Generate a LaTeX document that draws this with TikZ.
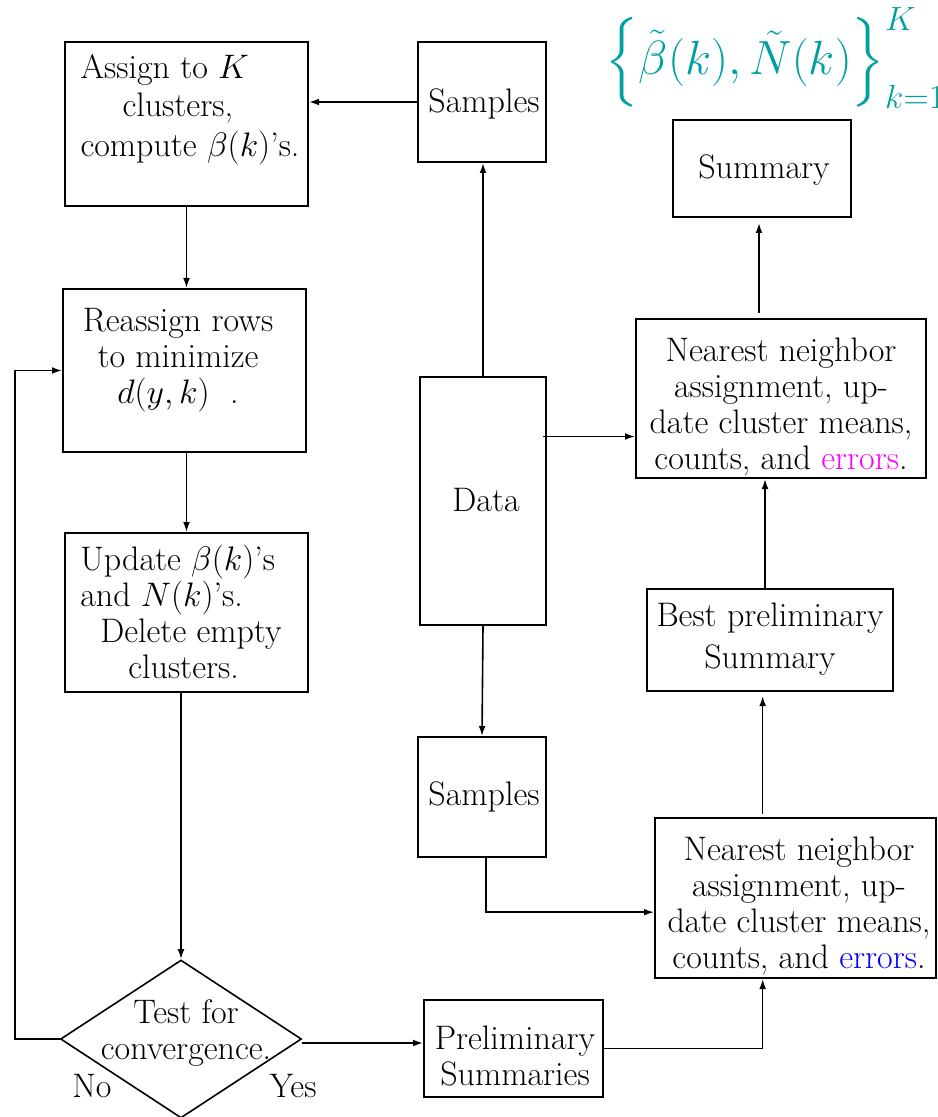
\documentclass[tikz,border=0pt]{standalone}
\usepackage{fix-cm}
\usepackage{amsmath}
\usetikzlibrary{arrows.meta,calc,shapes.geometric}
\definecolor{tealc}{RGB}{0,160,160}
\definecolor{errmag}{RGB}{255,0,255}
\definecolor{errblue}{RGB}{0,0,255}
\begin{document}
\begin{tikzpicture}[x=0.5pt,y=-0.5pt,
  box/.style={draw,line width=1pt,inner sep=0pt},
  txt/.style={font=\fontsize{17}{18}\selectfont,inner sep=0pt},
  arr/.style={line width=0.8pt,-{Latex[length=5pt,width=3.4pt]}},
]
\useasboundingbox (0,0) rectangle (937,1117);

% boxes
\node[box,minimum width=121.5pt,minimum height=82pt] (assign) at (186.5,124) {};
\node[box,minimum width=64pt,minimum height=60pt] (samp1) at (482,102) {};
\node[box,minimum width=89pt,minimum height=48.5pt] (summ) at (762,168.5) {};
\node[box,minimum width=121.5pt,minimum height=81.5pt] (reass) at (184.5,370.5) {};
\node[box,minimum width=121.5pt,minimum height=79.5pt] (update) at (186.5,612.5) {};
\node[box,minimum width=63pt,minimum height=124pt] (data) at (483,501) {};
\node[box,minimum width=145pt,minimum height=79.5pt] (nn1) at (781,398.5) {};
\node[box,minimum width=123pt,minimum height=51pt] (best) at (770,640) {};
\node[box,minimum width=64pt,minimum height=60pt] (samp2) at (482,797) {};
\node[box,minimum width=140.5pt,minimum height=80pt] (nn2) at (795.5,898) {};
\node[box,minimum width=89.5pt,minimum height=48.5pt] (prelim) at (513.5,1048.5) {};
\node[draw,diamond,line width=0.8pt,minimum width=120.5pt,minimum height=79pt,inner sep=0pt] (test) at (181,1039) {};

% texts
\node[txt,align=left] (assign-t) at (190,110)
  {Assign to $K$\\[1pt]\hspace*{21pt}clusters,\\[2pt]compute $\beta(k)$'s.};
\node[txt] (samp1-t) at (484,104) {Samples};
\node[txt] (summ-t) at (764,170) {Summary};
\node[text=tealc,font=\fontsize{24}{24}\selectfont,inner sep=0pt] (form) at (776,58)
  {$\Bigl\{\tilde\beta(k),\tilde N(k)\Bigr\}^{K}_{k=1}$};
\node[txt,align=center] (reass-t) at (178,360)
  {Reassign rows\\to minimize\\$d(y,k)$\ \ .};
\node[txt,align=left] (update-t) at (181,612)
  {Update $\beta(k)$'s\\and $N(k)$'s.\\\hspace*{10pt}Delete empty\\\hspace*{24pt}clusters.};
\node[txt] (data-t) at (486,500) {Data};
\node[txt,align=center] (nn1-t) at (781,407)
  {Nearest neighbor\\assignment, up-\\date cluster means,\\counts, and \textcolor{errmag}{errors}.};
\node[txt,align=center] (best-t) at (770,639) {Best preliminary\\[3pt]Summary};
\node[txt] (samp2-t) at (484,797) {Samples};
\node[txt,align=center] (nn2-t) at (799,906)
  {Nearest neighbor\\assignment, up-\\date cluster means,\\counts, and \textcolor{errblue}{errors}.};
\node[txt,align=center] (prelim-t) at (515,1056) {Preliminary\\Summaries};
\node[txt,align=center] (test-t) at (186,1033) {Test for\\convergence.};
\node[txt] (no) at (92,1086) {No};
\node[txt] (yes) at (293,1086) {Yes};

% helper coordinates
\coordinate (loopx) at (15,0);
\coordinate (d1) at ($(data.north east)!0.242!(data.south east)$);
\coordinate (n2in) at ($(nn2.north west)!0.5875!(nn2.south west)$);
\coordinate (n2bot) at ($(nn2.south west)!0.384!(nn2.south east)$);
\coordinate (n2top) at ($(nn2.north west)!0.384!(nn2.north east)$);
\coordinate (bestin) at ([xshift=-2.5pt]best.north);
\coordinate (summin) at ([xshift=-1.5pt]summ.south);

% connectors
\draw[arr] (samp1.west) -- (samp1.west -| assign.east);
\draw[arr] (assign.south) -- (assign.south |- reass.north);
\draw[arr] (update.north |- reass.south) -- (update.north);
\draw[arr] (test.north |- update.south) -- (test.north);
\draw[arr] (test.west) -- (test.west -| loopx) |- (reass.west);
\draw[arr] ([yshift=-2pt]test.east) -- ([yshift=-2pt]test.east -| prelim.west);
\draw[arr] (data.north) -- (data.north |- samp1.south);
\draw[arr] (data.south) -- (samp2.north);
\draw[arr] ([xshift=-2pt]d1) -- (d1 -| nn1.west);
\draw[arr] ([xshift=2pt]samp2.south) |- (n2in);
\draw[arr] (prelim.east) -| (n2bot);
\draw[arr,shorten <=1.5pt,shorten >=2pt] (n2top) -- (n2top |- best.south);
\draw[arr] (bestin) -- (bestin |- nn1.south);
\draw[arr,shorten <=2.5pt,shorten >=2.5pt] (summin |- nn1.north) -- (summin);
\end{tikzpicture}
\end{document}
